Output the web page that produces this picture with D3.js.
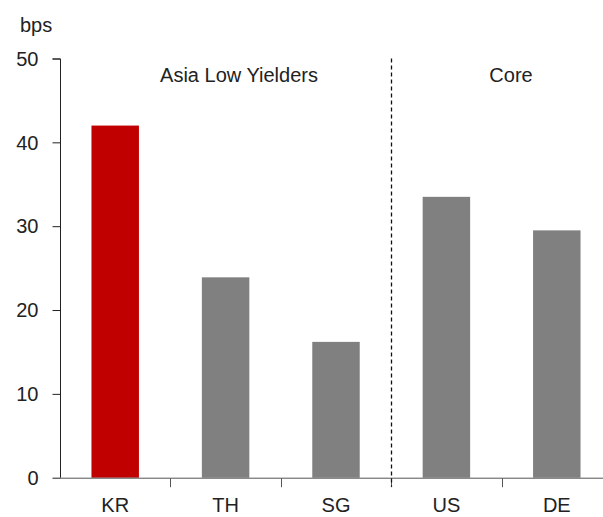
<!DOCTYPE html>
<html><head><meta charset="utf-8">
<script src="https://cdn.jsdelivr.net/npm/d3@7"></script>
<style>body{margin:0;background:#fff}svg{display:block}text{font-family:"Liberation Sans",Arial,sans-serif;fill:#222}</style>
</head><body>
<script>
const categories = ["KR","TH","SG","US","DE"];
const values = [42.0, 23.9, 16.2, 33.5, 29.5];
const colors = ["#C00000","#808080","#808080","#808080","#808080"];
const yTicks = [0,10,20,30,40,50];
const groups = [{label:"Asia Low Yielders", from:"KR", to:"SG"},{label:"Core", from:"US", to:"DE"}];

const W=603,H=517;
const svg=d3.select("body").append("svg").attr("width",W).attr("height",H);
const x=d3.scaleBand().domain(categories).range([60,612]).paddingInner(0.57).paddingOuter(0.285);
const y=d3.scaleLinear().domain([0,50]).range([477.7,58.5]);

// bars
svg.selectAll("rect.bar").data(categories).join("rect")
  .attr("x",d=>x(d)).attr("width",x.bandwidth())
  .attr("y",(d,i)=>y(values[i])).attr("height",(d,i)=>y(0)-y(values[i]))
  .attr("fill",(d,i)=>colors[i]);

// y axis
const ya=svg.append("g").attr("transform","translate(60.5,0)")
  .call(d3.axisLeft(y).tickValues(yTicks).tickSize(8).tickPadding(14).tickFormat(d3.format("d")));
ya.select(".domain").attr("stroke","#222").attr("d",`M-8,${y(50)+0.5}H0V${y(0)}`);
ya.selectAll(".tick line").attr("stroke","#222");
ya.selectAll(".tick text").attr("font-size",20).attr("font-family","Liberation Sans, Arial, sans-serif").attr("fill","#222").attr("dy","0.34em");

// x axis
const step=x.step();
const xa=svg.append("g").attr("transform",`translate(0,${y(0)+0.5})`);
xa.append("line").attr("x1",60).attr("x2",W).attr("stroke","#555");
const bounds=categories.slice(1).map(c=>x(c)-x.paddingInner()*step/2);
xa.selectAll("line.t").data(bounds).join("line").attr("x1",d=>Math.round(d)+0.5).attr("x2",d=>Math.round(d)+0.5).attr("y1",0).attr("y2",9).attr("stroke","#555");
xa.selectAll("text").data(categories).join("text")
  .attr("x",d=>x(d)+x.bandwidth()/2).attr("y",33.5).attr("text-anchor","middle").attr("font-size",20).text(d=>d);

// divider
const divX=Math.round(x("US")-x.paddingInner()*step/2)+0.5;
svg.append("line").attr("x1",divX).attr("x2",divX).attr("y1",y(50)).attr("y2",y(0)+9)
  .attr("stroke","#111").attr("stroke-width",1.3).attr("stroke-dasharray","4,3");

// group labels
const glx=[239,511];
svg.selectAll("text.g").data(groups).join("text").attr("class","g")
  .attr("x",(d,i)=>glx[i]).attr("y",82).attr("text-anchor","middle").attr("font-size",20).text(d=>d.label);

svg.append("text").attr("x",20).attr("y",32).attr("font-size",20).text("bps");
</script>
</body></html>
